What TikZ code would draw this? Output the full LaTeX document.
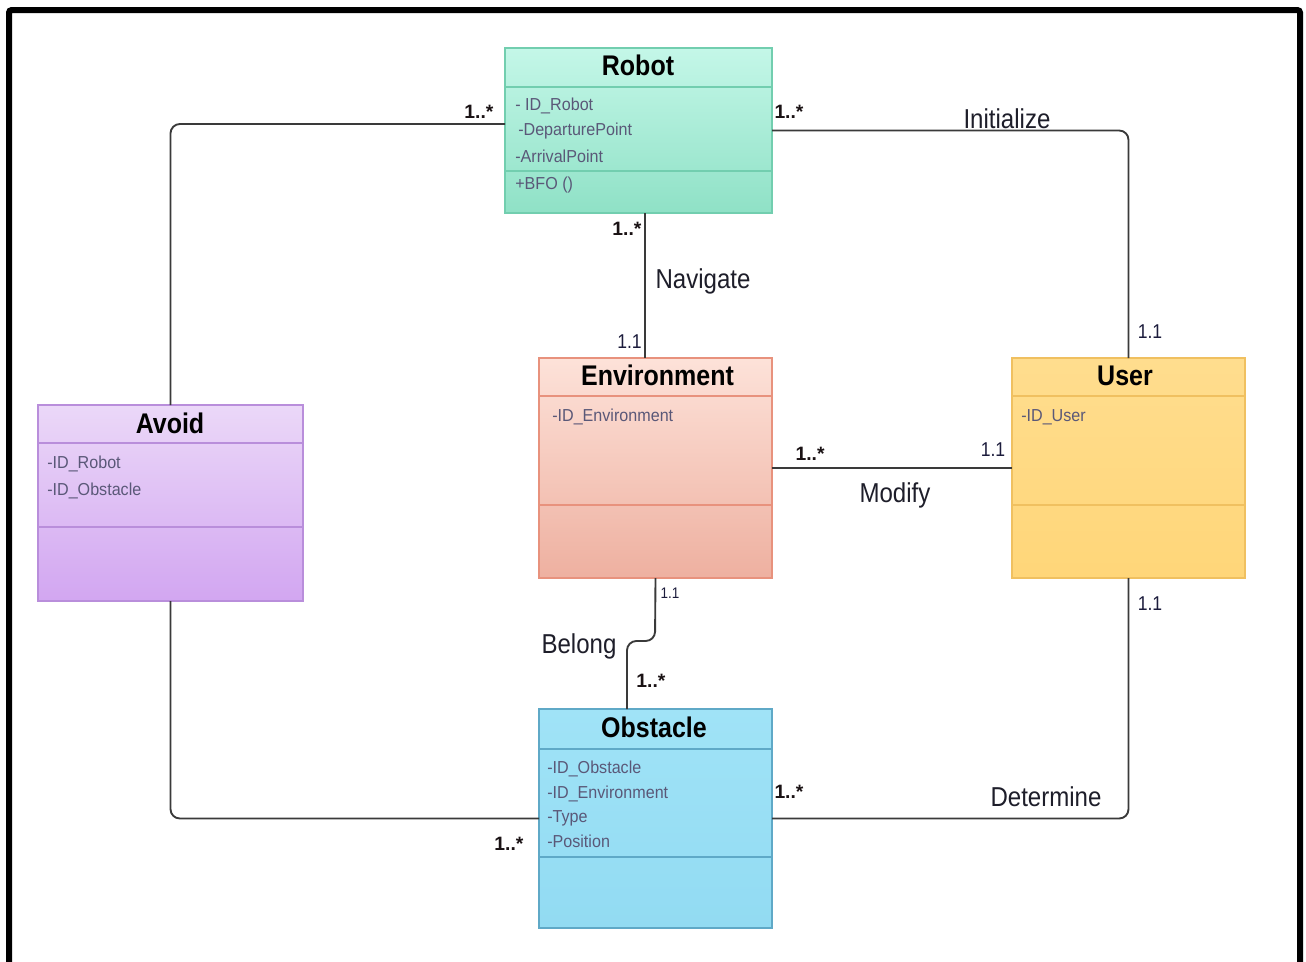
\documentclass[tikz,border=0pt]{standalone}
\usepackage{fontspec}
\setmainfont{Liberation Sans}
\newfontfamily\condsans[FakeStretch=0.88]{Liberation Sans}
\newfontfamily\attrsans[FakeStretch=0.93]{Liberation Sans}
\usetikzlibrary{fit}

% class colours
\definecolor{robotTop}{HTML}{C4F7E8}
\definecolor{robotBot}{HTML}{8FE1C6}
\definecolor{robotLine}{HTML}{72CEAF}
\definecolor{envTop}{HTML}{FDE2D9}
\definecolor{envBot}{HTML}{EEB0A0}
\definecolor{envLine}{HTML}{E8927D}
\definecolor{userTop}{HTML}{FFDD8E}
\definecolor{userBot}{HTML}{FFD679}
\definecolor{userLine}{HTML}{F0C060}
\definecolor{avoidTop}{HTML}{EBD8F8}
\definecolor{avoidBot}{HTML}{D2A6F1}
\definecolor{avoidLine}{HTML}{B98EDB}
\definecolor{obstTop}{HTML}{A0E3F7}
\definecolor{obstBot}{HTML}{92DBF2}
\definecolor{obstLine}{HTML}{5FA9C7}
% text and line colours
\definecolor{attrText}{HTML}{5A5878}
\definecolor{lineGray}{HTML}{3A3A3A}
\definecolor{roleText}{HTML}{1E1E2A}
\definecolor{manyText}{HTML}{1A1214}
\definecolor{oneText}{HTML}{1C1C3C}

\begin{document}
\begin{tikzpicture}[x=0.75pt,y=-0.75pt,
  classbox/.style={rectangle, inner sep=0pt, outer sep=0pt, line width=1.5pt},
  divider/.style={line width=1.5pt},
  title/.style={font=\condsans\bfseries\fontsize{21.3}{24}\selectfont, text=black, inner sep=0pt, anchor=base},
  attr/.style={font=\attrsans\fontsize{13}{15}\selectfont, text=attrText, inner sep=0pt, anchor=base west},
  assoc/.style={draw=lineGray, line width=1.4pt, rounded corners=7pt},
  role/.style={font=\condsans\fontsize{20.5}{24}\selectfont, text=roleText, inner sep=0pt, anchor=base},
  many/.style={font=\bfseries\fontsize{14.5}{16}\selectfont, text=manyText, inner sep=0pt, anchor=base},
  one/.style={font=\condsans\fontsize{15}{17}\selectfont, text=oneText, inner sep=0pt, anchor=base},
]
\useasboundingbox (0,0) rectangle (1306,961);
\clip (0,0) rectangle (1306,961);
\fill[white] (0,0) rectangle (1306,961);

% outer frame, open at the bottom edge
\draw[line width=4.5pt, rounded corners=2pt] (9,980) -- (9,10) -- (1300,10) -- (1300,980);

% ---------- classes ----------
\node (robot) [classbox, fit={(505,48) (772,213)}, draw=robotLine, top color=robotTop, bottom color=robotBot] {};
\draw[divider, robotLine] (robot.west |- 0,87) -- (robot.east |- 0,87);
\draw[divider, robotLine] (robot.west |- 0,171) -- (robot.east |- 0,171);
\node (robotT) [title] at (638,75) {Robot};
\node (robotA1) [attr] at (515,110) {- ID\_Robot};
\node (robotA2) [attr] at (518,135) {-DeparturePoint};
\node (robotA3) [attr] at (515,162) {-ArrivalPoint};
\node (robotM1) [attr] at (515,189) {+BFO ()};

\node (env) [classbox, fit={(539,358) (772,578)}, draw=envLine, top color=envTop, bottom color=envBot] {};
\draw[divider, envLine] (env.west |- 0,396) -- (env.east |- 0,396);
\draw[divider, envLine] (env.west |- 0,505) -- (env.east |- 0,505);
\node (envT) [title] at (657.5,385) {Environment};
\node (envA1) [attr] at (552,421) {-ID\_Environment};

\node (user) [classbox, fit={(1012,358) (1245,578)}, draw=userLine, top color=userTop, bottom color=userBot] {};
\draw[divider, userLine] (user.west |- 0,396) -- (user.east |- 0,396);
\draw[divider, userLine] (user.west |- 0,505) -- (user.east |- 0,505);
\node (userT) [title] at (1125,385) {User};
\node (userA1) [attr] at (1021,421) {-ID\_User};

\node (avoid) [classbox, fit={(38,405) (303,601)}, draw=avoidLine, top color=avoidTop, bottom color=avoidBot] {};
\draw[divider, avoidLine] (avoid.west |- 0,443) -- (avoid.east |- 0,443);
\draw[divider, avoidLine] (avoid.west |- 0,527) -- (avoid.east |- 0,527);
\node (avoidT) [title] at (170,433) {Avoid};
\node (avoidA1) [attr] at (47,468) {-ID\_Robot};
\node (avoidA2) [attr] at (47,495) {-ID\_Obstacle};

\node (obst) [classbox, fit={(539,709) (772,928)}, draw=obstLine, top color=obstTop, bottom color=obstBot] {};
\draw[divider, obstLine] (obst.west |- 0,749) -- (obst.east |- 0,749);
\draw[divider, obstLine] (obst.west |- 0,857) -- (obst.east |- 0,857);
\node (obstT) [title] at (654,737) {Obstacle};
\node (obstA1) [attr] at (547,773) {-ID\_Obstacle};
\node (obstA2) [attr] at (547,798) {-ID\_Environment};
\node (obstA3) [attr] at (547,822) {-Type};
\node (obstA4) [attr] at (547,847) {-Position};

% ---------- associations ----------
% Avoid -- Robot
\draw[assoc] (robot.west |- 0,124) -| (avoid.north);
% Robot -- User (Initialize)
\draw[assoc] (robot.east) -| (user.north);
% Robot -- Environment (Navigate)
\draw[assoc] (robot.south -| 645,0) -- (env.north -| 645,0);
% Environment -- User (Modify)
\draw[assoc] (env.east) -- (user.west);
% Environment -- Obstacle (Belong), with a small jog
\draw[assoc] (env.south) -- (655,641) -- (627,641) -- (obst.north -| 627,0);
% Avoid -- Obstacle
\draw[assoc] (avoid.south) |- (obst.west);
% Obstacle -- User (Determine)
\draw[assoc] (obst.east) -| (user.south);

% ---------- association names ----------
\node (lblInit) [role] at (1007,128) {Initialize};
\node (lblNav)  [role] at (703,288) {Navigate};
\node (lblMod)  [role] at (895,502) {Modify};
\node (lblBel)  [role] at (579,653) {Belong};
\node (lblDet)  [role] at (1046,806) {Determine};

% ---------- multiplicities ----------
\node (mRobL)  [many] at (479,118) {1..*};
\node (mRobR)  [many] at (789,118) {1..*};
\node (mRobB)  [many] at (627,235) {1..*};
\node (mEnvR)  [many] at (810,460) {1..*};
\node (mObsT)  [many] at (651,687) {1..*};
\node (mObsR)  [many] at (789,798) {1..*};
\node (mObsL)  [many] at (509,850) {1..*};

\node (oEnvT)  [one] at (629.5,348) {1.1};
\node (oUsrT)  [one] at (1150,338) {1.1};
\node (oUsrL)  [one] at (993,456) {1.1};
\node (oUsrB)  [one] at (1150,610) {1.1};
\node (oEnvB)  [one, font=\condsans\fontsize{11.5}{13}\selectfont] at (670,598) {1.1};
\end{tikzpicture}
\end{document}
